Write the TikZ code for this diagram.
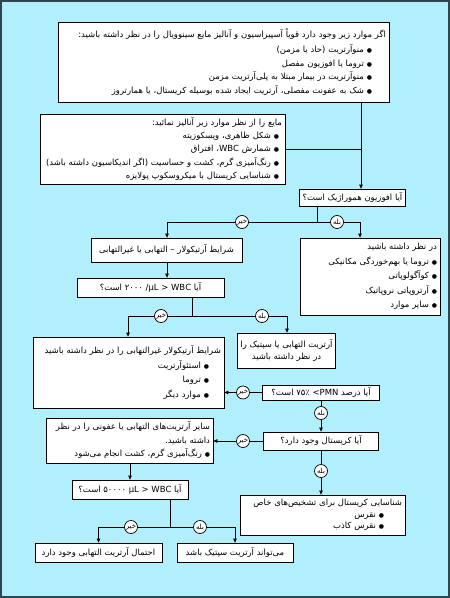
\documentclass[tikz,border=0pt]{standalone}
\usepackage{fontspec}
\usetikzlibrary{arrows.meta}
\newfontfamily\fa[Script=Arabic]{DejaVu Sans}
\TeXXeTstate=1
\definecolor{bgcyan}{RGB}{178,239,252}
\definecolor{frameclr}{RGB}{45,70,80}
\newcommand{\rtl}[1]{\beginR #1\endR}
\newcommand{\itm}[2][0bp]{\beginR {\fontsize{6}{6}\selectfont ●}~#2\endR\kern#1}

\begin{document}
\begin{tikzpicture}[x=1bp,y=-1bp,line width=0.7bp,
  box/.style={draw,fill=white,inner xsep=3bp,inner ysep=0bp,align=right,font=\fa\fontsize{8.5}{13.5}\selectfont},
  cbox/.style={box,align=center},
  ans/.style={circle,draw,fill=white,inner sep=0bp,minimum size=13bp,font=\fa\fontsize{7}{7}\selectfont},
  arr/.style={-{Triangle[length=4bp,width=3.5bp]}}]
\useasboundingbox (0,0) rectangle (450,598);
\fill[bgcyan] (0,0) rectangle (450,598);
\draw[frameclr,line width=2bp] (1,1) rectangle (449,597);
\node[box,text width=325bp,minimum height=80bp] (aspirate) at (223.5,62) {\rtl{اگر موارد زیر وجود دارد قویاً آسپیراسیون و آنالیز مایع سینوویال را در نظر داشته باشید:}\\[1.5bp]
\itm[14bp]{منوآرتریت (حاد یا مزمن)}\\
\itm[14bp]{تروما یا افوزیون مفصل}\\
\itm[14bp]{منوآرتریت در بیمار مبتلا به پلی‌آرتریت مزمن}\\
\itm[14bp]{شک به عفونت مفصلی، آرتریت ایجاد شده بوسیله کریستال، یا همارتروز}};
\node[box,text width=239bp,minimum height=70bp] (analyse) at (162.5,149) {\rtl{مایع را از نظر موارد زیر آنالیز نمائید:}\\
\itm[3bp]{شکل ظاهری، ویسکوزیته}\\
\itm[3bp]{شمارش \beginL WBC\endL، افتراق}\\
\itm[3bp]{رنگ‌آمیزی گرم، کشت و حساسیت (اگر اندیکاسیون داشته باشد)}\\
\itm[3bp]{شناسایی کریستال با میکروسکوپ پولایزه}};
\node[cbox,minimum width=103bp,minimum height=17bp] (bloody) at (352.5,197.5) {\rtl{آیا افوزیون هموراژیک است؟}};
\node[box,text width=134bp,minimum height=77bp] (bloodyyes) at (370,276.5) {\rtl{در نظر داشته باشید}\\[1bp]
\itm{تروما یا بهم‌خوردگی مکانیکی}\\[1bp]
\itm{کوآگولوپاتی}\\[1bp]
\itm{آرتروپاتی نروپاتیک}\\[1bp]
\itm{سایر موارد}};
\node[cbox,minimum width=151bp,minimum height=24bp] (articular) at (166.5,250) {\rtl{شرایط آرتیکولار – التهابی یا غیرالتهابی}};
\node[cbox,minimum width=147bp,minimum height=19bp] (wbcA) at (150.5,287.5) {\rtl{آیا \beginL /µL < WBC\endL{} ۲۰۰۰ است؟}};
\node[box,text width=185bp,minimum height=71bp] (noninfl) at (128.5,372.5) {\rtl{شرایط آرتیکولار غیرالتهابی را در نظر داشته باشید}\\[1bp]
\itm[12bp]{استئوآرتریت}\\[1bp]
\itm[12bp]{تروما}\\[1bp]
\itm[12bp]{موارد دیگر}};
\node[cbox,minimum width=97bp,minimum height=35bp] (inflsept) at (286.5,350.5) {\rtl{آرتریت التهابی یا سپتیک را}\\[-1bp]\rtl{در نظر داشته باشید}};
\node[cbox,minimum width=117bp,minimum height=15bp] (pmn) at (321,392.5) {\rtl{آیا درصد \beginL <PMN\endL{} ۷۵٪ است؟}};
\node[cbox,minimum width=115bp,minimum height=18bp] (crystal) at (321,441) {\rtl{آیا کریستال وجود دارد؟}};
\node[box,text width=161bp,minimum height=45bp] (otherinfl) at (129.5,440.5) {\rtl{سایر آرتریت‌های التهابی یا عفونی را در نظر}\\
\rtl{داشته باشید.}\\
\itm{رنگ‌آمیزی گرم، کشت انجام می‌شود}};
\node[box,text width=159bp,minimum height=40bp,font=\fa\fontsize{8.5}{11.5}\selectfont] (crystalid) at (322.5,515) {\rtl{شناسایی کریستال برای تشخیص‌های خاص}\\
\itm[18bp]{نقرس}\\
\itm[18bp]{نقرس کاذب}};
\node[cbox,minimum width=116bp,minimum height=19bp] (wbcB) at (130,489.5) {\rtl{آیا \beginL µL < WBC\endL{} ۵۰۰۰۰ است؟}};
\node[cbox,minimum width=127bp,minimum height=19bp] (inflprob) at (98.5,552.5) {\rtl{احتمال آرتریت التهابی وجود دارد}};
\node[cbox,minimum width=116bp,minimum height=19bp] (septic) at (235,552.5) {\rtl{می‌تواند آرتریت سپتیک باشد}};
\node[ans] (noA) at (242,222) {\rtl{خیر}};
\node[ans] (yesA) at (337,222) {\rtl{بله}};
\node[ans] (noB) at (161,316) {\rtl{خیر}};
\node[ans] (yesB) at (262,316) {\rtl{بله}};
\node[ans] (noC) at (243,392.5) {\rtl{خیر}};
\node[ans] (yesC) at (321,413) {\rtl{بله}};
\node[ans] (noD) at (243,441) {\rtl{خیر}};
\node[ans] (yesD) at (321,471) {\rtl{بله}};
\node[ans] (noE) at (131,527) {\rtl{خیر}};
\node[ans] (yesE) at (200,527) {\rtl{بله}};
\coordinate (mainA) at (361,149);
\coordinate (forkA) at (317,222);
\coordinate (leftA) at (167,222);
\coordinate (rightA) at (360,222);
\coordinate (forkB) at (192,316);
\coordinate (leftB) at (128,316);
\coordinate (rightB) at (287,316);
\coordinate (forkE) at (170,527);
\draw[arr] (aspirate.south -| mainA) -- (bloody.north -| mainA);
\draw (analyse.east) -- (mainA);
\draw (bloody.south -| forkA) -- (forkA);
\draw (noA) -- (yesA);
\draw[arr] (noA) -- (leftA) -- (leftA |- articular.north);
\draw[arr] (yesA) -- (rightA) -- (rightA |- bloodyyes.north);
\draw[arr] (articular.south -| leftA) -- (leftA |- wbcA.north);
\draw (wbcA.south -| forkB) -- (forkB);
\draw (noB) -- (yesB);
\draw[arr] (noB) -- (leftB) -- (leftB |- noninfl.north);
\draw[arr] (yesB) -- (rightB) -- (rightB |- inflsept.north);
\draw[arr] (pmn) -- (noC) -- (noC -| noninfl.east);
\draw[arr] (pmn) -- (yesC) -- (crystal);
\draw[arr] (crystal) -- (noD) -- (noD -| otherinfl.east);
\draw[arr] (crystal) -- (yesD) -- (yesD |- crystalid.north);
\draw[arr] (otherinfl.south -| wbcB) -- (wbcB);
\draw (wbcB.south -| forkE) -- (forkE);
\draw (noE) -- (yesE);
\draw[arr] (noE) -| (inflprob);
\draw[arr] (yesE) -| (septic);
\end{tikzpicture}
\end{document}
